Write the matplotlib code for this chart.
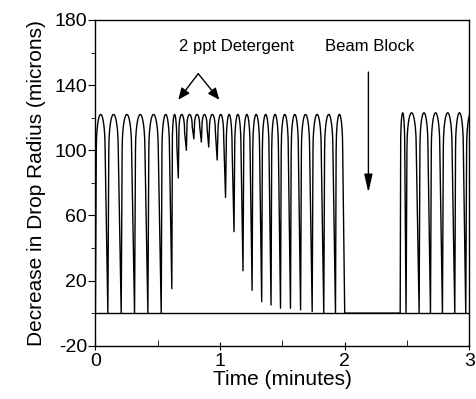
import numpy as np
import matplotlib
matplotlib.use("Agg")
import matplotlib.pyplot as plt

plt.rcParams['font.family'] = ['Liberation Sans', 'DejaVu Sans']
plt.rcParams['axes.unicode_minus'] = False

# Trough times (minutes) and trough depths (microns)
trough_t_before = [0.0, 0.100, 0.207, 0.314, 0.421, 0.528, 0.613, 0.665, 0.730,
                   0.790, 0.850, 0.909, 0.977, 1.044, 1.112, 1.184, 1.257, 1.334,
                   1.409, 1.485, 1.565, 1.646, 1.739, 1.832, 1.926, 2.000]
trough_y_before = [0, 0, 0, 0, 0, 0, 15, 83, 100,
                   107, 105, 102, 94, 71, 50, 26, 14, 7,
                   5, 3, 3, 2, 1, 0, 0, 0]
trough_t_after = [2.445, 2.492, 2.597, 2.688, 2.784, 2.883, 2.971, 3.07]
trough_y_after = [0, 0, 0, 0, 0, 0, 0, 0]
peak_before = 122
peak_after = 123

x_ticks = [0, 1, 2, 3]
y_ticks = [-20, 20, 60, 100, 140, 180]


def trace(tt, yy, top):
    # steep legs with a rounded cap between each pair of troughs
    xs, ys = [], []
    for i in range(len(tt) - 1):
        t0, t1 = tt[i], tt[i + 1]
        p = t1 - t0
        h = min(22, 0.5 * (top - max(yy[i], yy[i + 1])))
        edge = top - h
        w = np.linspace(-1, 1, 40)
        cap_t = t0 + p * (0.07 + 0.71 * (w + 1) / 2)
        cap_y = edge + h * np.sqrt(1 - w ** 2)
        xs.append(np.concatenate([[t0], cap_t]))
        ys.append(np.concatenate([[yy[i]], cap_y]))
    xs.append([tt[-1]])
    ys.append([yy[-1]])
    return np.concatenate(xs), np.concatenate(ys)


x1, y1 = trace(trough_t_before, trough_y_before, peak_before)
x2, y2 = trace(trough_t_after, trough_y_after, peak_after)
x = np.concatenate([x1, x2])
y = np.concatenate([y1, y2])

fig = plt.figure(figsize=(4.77, 3.99), dpi=100)
ax = fig.add_axes([0.200, 0.1336, 0.784, 0.8164])

ax.axhline(0, color='black', lw=1.0)
ax.plot(x, y, color='black', lw=1.0)

ax.set_xlim(0, 3)
ax.set_ylim(-20, 180)
ax.set_xticks(x_ticks)
ax.set_xticks([0.5, 1.5, 2.5], minor=True)
ax.set_yticks(y_ticks)
ax.set_yticks([0, 40, 80, 120, 160], minor=True)
ax.tick_params(axis='both', labelsize=14, colors='black', width=0.8)
ax.tick_params(axis='y', which='major', direction='out', length=5, pad=1)
ax.tick_params(axis='y', which='minor', direction='out', length=3)
ax.tick_params(axis='x', which='major', direction='inout', length=6, pad=2)
ax.tick_params(axis='x', which='minor', direction='in', length=4)
for s in ax.spines.values():
    s.set_linewidth(1.0)

ax.set_xlabel('Time (minutes)', fontsize=15, labelpad=0)
ax.set_ylabel('Decrease in Drop Radius (microns)', fontsize=15, labelpad=6)

# annotations
ax.text(1.13, 164, '2 ppt Detergent', ha='center', va='center', fontsize=12)
arrow = dict(arrowstyle='-|>,head_length=0.7,head_width=0.3', color='black',
             lw=1.0, shrinkA=0, shrinkB=0)
ax.annotate('', xy=(0.665, 131), xytext=(0.825, 147), arrowprops=arrow)
ax.annotate('', xy=(0.994, 131), xytext=(0.825, 147), arrowprops=arrow)

ax.text(2.20, 164, 'Beam Block', ha='center', va='center', fontsize=12)
ax.annotate('', xy=(2.19, 74), xytext=(2.19, 148),
            arrowprops=dict(arrowstyle='-|>,head_length=1.1,head_width=0.25',
                            color='black', lw=1.0, shrinkA=0, shrinkB=0))

fig.savefig('out.png', dpi=100)
